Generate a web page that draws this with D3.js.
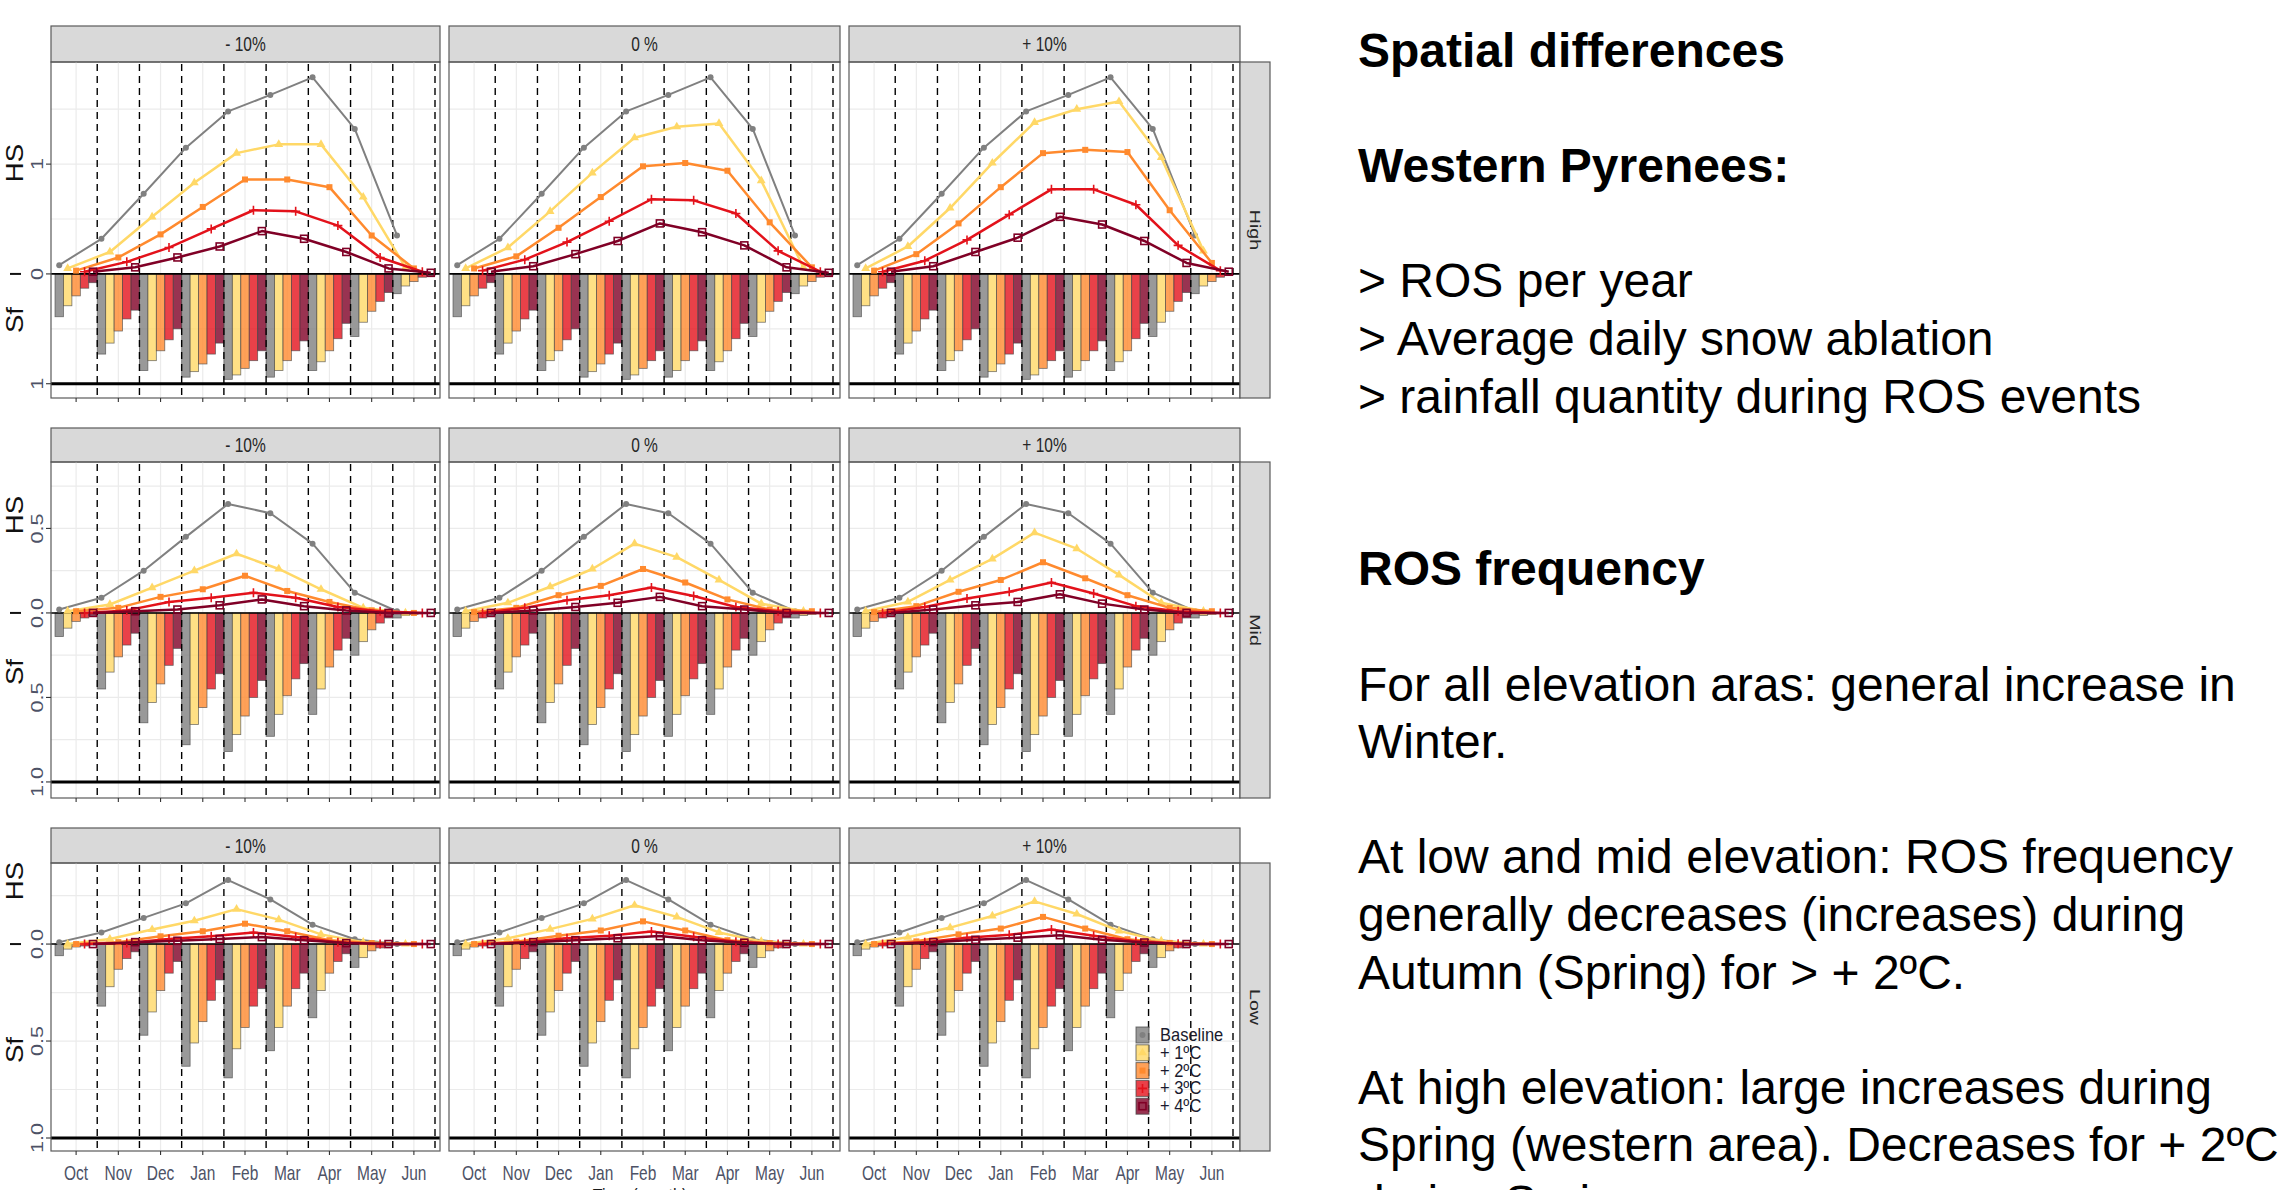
<!DOCTYPE html>
<html>
<head>
<meta charset="utf-8">
<script src="https://cdn.jsdelivr.net/npm/d3@7"></script>
<style>
  body { margin: 0; background: #fff; }
  svg { display: block; font-family: "Liberation Sans", Arial, sans-serif; }
</style>
</head>
<body>
<svg id="chart" width="2287" height="1190"></svg>
<script>
// ---- data ----
const months = ['Oct', 'Nov', 'Dec', 'Jan', 'Feb', 'Mar', 'Apr', 'May', 'Jun'];
const scenarios = ['Baseline', '+ 1ºC', '+ 2ºC', '+ 3ºC', '+ 4ºC'];
const precipChanges = ['- 10%', '0 %', '+ 10%'];
const elevations = ['High', 'Mid', 'Low'];

// HS baseline (same in every precipitation column)
const hsBaseHigh = [0.08, 0.32, 0.73, 1.15, 1.48, 1.63, 1.79, 1.32, 0.35];
const hsBaseMid = [0.02, 0.09, 0.25, 0.45, 0.645, 0.59, 0.41, 0.12, 0.01];
const hsBaseLow = [0.01, 0.06, 0.135, 0.21, 0.33, 0.23, 0.10, 0.025, 0.0];

// HS for +1..+4 ºC, one array per panel
const hsHighM10 = [
  [0.05, 0.20, 0.52, 0.83, 1.10, 1.18, 1.18, 0.70, 0.06],
  [0.03, 0.15, 0.36, 0.61, 0.86, 0.86, 0.79, 0.35, 0.05],
  [0.02, 0.11, 0.24, 0.41, 0.58, 0.57, 0.44, 0.15, 0.02],
  [0.02, 0.06, 0.15, 0.25, 0.39, 0.32, 0.20, 0.05, 0.01]
];
const hsHigh0 = [
  [0.05, 0.24, 0.57, 0.92, 1.24, 1.34, 1.37, 0.85, 0.06],
  [0.05, 0.16, 0.42, 0.70, 0.98, 1.01, 0.94, 0.47, 0.06],
  [0.03, 0.13, 0.29, 0.48, 0.68, 0.67, 0.55, 0.21, 0.02],
  [0.02, 0.07, 0.18, 0.30, 0.46, 0.38, 0.26, 0.06, 0.01]
];
const hsHighP10 = [
  [0.05, 0.25, 0.60, 1.01, 1.38, 1.50, 1.57, 1.06, 0.21],
  [0.03, 0.18, 0.46, 0.79, 1.10, 1.13, 1.11, 0.58, 0.10],
  [0.02, 0.12, 0.31, 0.54, 0.77, 0.77, 0.63, 0.26, 0.03],
  [0.02, 0.07, 0.20, 0.33, 0.52, 0.45, 0.30, 0.10, 0.02]
];
const hsMidM10 = [
  [0.01, 0.05, 0.15, 0.25, 0.35, 0.26, 0.14, 0.03, 0.0],
  [0.01, 0.03, 0.095, 0.14, 0.22, 0.13, 0.065, 0.015, 0.0],
  [0.0, 0.015, 0.065, 0.09, 0.12, 0.09, 0.035, 0.01, 0.0],
  [0.0, 0.01, 0.02, 0.045, 0.08, 0.04, 0.015, 0.0, 0.0]
];
const hsMid0 = [
  [0.01, 0.06, 0.155, 0.26, 0.41, 0.33, 0.195, 0.055, 0.01],
  [0.005, 0.03, 0.105, 0.16, 0.26, 0.18, 0.08, 0.02, 0.01],
  [0.0, 0.03, 0.075, 0.105, 0.15, 0.10, 0.035, 0.01, 0.0],
  [0.0, 0.015, 0.035, 0.06, 0.095, 0.04, 0.02, 0.0, 0.0]
];
const hsMidP10 = [
  [0.01, 0.065, 0.195, 0.32, 0.475, 0.38, 0.225, 0.06, 0.01],
  [0.005, 0.04, 0.125, 0.195, 0.30, 0.205, 0.105, 0.03, 0.01],
  [0.0, 0.035, 0.085, 0.125, 0.18, 0.115, 0.04, 0.01, 0.0],
  [0.0, 0.02, 0.045, 0.065, 0.11, 0.055, 0.02, 0.0, 0.0]
];
const hsLowM10 = [
  [0.0, 0.026, 0.075, 0.12, 0.18, 0.126, 0.05, 0.01, 0.0],
  [0.0, 0.01, 0.04, 0.066, 0.105, 0.066, 0.02, 0.005, 0.0],
  [0.0, 0.005, 0.026, 0.04, 0.06, 0.036, 0.01, 0.0, 0.0],
  [0.0, 0.01, 0.017, 0.026, 0.036, 0.02, 0.005, 0.0, 0.0]
];
const hsLow0 = [
  [0.0, 0.03, 0.077, 0.13, 0.20, 0.14, 0.06, 0.014, 0.0],
  [0.0, 0.012, 0.043, 0.07, 0.117, 0.07, 0.02, 0.005, 0.0],
  [0.0, 0.009, 0.03, 0.043, 0.065, 0.038, 0.012, 0.0, 0.0],
  [0.0, 0.01, 0.02, 0.03, 0.041, 0.02, 0.007, 0.0, 0.0]
];
const hsLowP10 = [
  [0.0, 0.035, 0.085, 0.145, 0.22, 0.155, 0.068, 0.016, 0.0],
  [0.0, 0.014, 0.05, 0.08, 0.14, 0.08, 0.025, 0.006, 0.0],
  [0.0, 0.01, 0.033, 0.048, 0.075, 0.043, 0.014, 0.002, 0.0],
  [0.0, 0.01, 0.022, 0.033, 0.046, 0.022, 0.008, 0.0, 0.0]
];

// Sf (snowfall fraction), Baseline..+4 ºC, same in every precipitation column
const sfHigh = [
  [0.39, 0.73, 0.88, 0.94, 0.96, 0.94, 0.88, 0.57, 0.18],
  [0.29, 0.63, 0.79, 0.89, 0.92, 0.88, 0.80, 0.44, 0.11],
  [0.20, 0.52, 0.70, 0.82, 0.86, 0.79, 0.70, 0.34, 0.07],
  [0.13, 0.41, 0.60, 0.73, 0.79, 0.70, 0.59, 0.25, 0.03],
  [0.08, 0.33, 0.50, 0.63, 0.70, 0.61, 0.45, 0.17, 0.015]
];
const sfMid = [
  [0.14, 0.45, 0.65, 0.78, 0.82, 0.73, 0.60, 0.25, 0.03],
  [0.09, 0.35, 0.53, 0.66, 0.72, 0.60, 0.45, 0.17, 0.015],
  [0.05, 0.26, 0.42, 0.56, 0.61, 0.49, 0.32, 0.10, 0.008],
  [0.03, 0.19, 0.31, 0.45, 0.50, 0.39, 0.22, 0.06, 0.004],
  [0.015, 0.12, 0.21, 0.36, 0.40, 0.30, 0.15, 0.03, 0.002]
];
const sfLow = [
  [0.06, 0.32, 0.47, 0.63, 0.69, 0.55, 0.38, 0.12, 0.005],
  [0.026, 0.22, 0.35, 0.51, 0.54, 0.43, 0.24, 0.07, 0.002],
  [0.015, 0.13, 0.24, 0.40, 0.43, 0.32, 0.15, 0.035, 0.001],
  [0.01, 0.075, 0.15, 0.29, 0.32, 0.23, 0.09, 0.02, 0.0],
  [0.005, 0.04, 0.09, 0.185, 0.23, 0.15, 0.05, 0.01, 0.0]
];

const noteLines = [
  'Spatial differences', '', 'Western Pyrenees:', '',
  '> ROS per year', '> Average daily snow ablation', '> rainfall quantity during ROS events',
  '', '', 'ROS frequency', '',
  'For all elevation aras: general increase in', 'Winter.', '',
  'At low and mid elevation: ROS frequency', 'generally decreases (increases) during',
  'Autumn (Spring) for > + 2ºC.', '',
  'At high elevation: large increases during', 'Spring (western area). Decreases for + 2ºC',
  'during Spring.'
];
const noteBold = [0, 2, 9];

// ---- lookups ----
const hsBase = { High: hsBaseHigh, Mid: hsBaseMid, Low: hsBaseLow };
const hsWarm = {
  High: [hsHighM10, hsHigh0, hsHighP10],
  Mid: [hsMidM10, hsMid0, hsMidP10],
  Low: [hsLowM10, hsLow0, hsLowP10]
};
const sfRows = { High: sfHigh, Mid: sfMid, Low: sfLow };

// ---- styling / layout ----
const lineColors = ['#808080', '#ffd867', '#ff8a2e', '#e3121b', '#800026'];
const textGrey = '#4d5266';
const borderCol = '#5a5a5a';
const cols = [{ x: 51, w: 389 }, { x: 449, w: 391 }, { x: 849, w: 391 }];
const rows = [
  { stripTop: 26, top: 62, bottom: 398, domain: [-1.13, 1.93], ticks: [-1, 0, 1], step: 0.5, fmt: d3.format('d'), hsY: 163, sfY: 320 },
  { stripTop: 428, top: 462, bottom: 798, domain: [-1.095, 0.893], ticks: [-1, -0.5, 0, 0.5], step: 0.25, fmt: d3.format('.1f'), hsY: 515, sfY: 672 },
  { stripTop: 828, top: 863, bottom: 1151, domain: [-1.067, 0.418], ticks: [-1, -0.5, 0], step: 0.25, fmt: d3.format('.1f'), hsY: 881, sfY: 1050 }
];
const stripRight = { x: 1240, w: 30 };

const svg = d3.select('#chart');

function addText(parent, str, x, y, o = {}) {
  const t = parent.append('text')
    .attr('transform', `translate(${x},${y}) rotate(${o.rot || 0}) scale(${o.sx || 1},${o.sy || 1})`)
    .attr('font-size', o.size || 16)
    .attr('text-anchor', o.anchor || 'middle')
    .attr('fill', o.fill || '#1a1a1a')
    .attr('font-weight', o.weight || 'normal')
    .text(str);
  if (o.baseline) t.attr('dominant-baseline', o.baseline);
  return t;
}

function drawMarker(g, i, x, y) {
  const c = lineColors[i];
  if (i === 0) g.append('circle').attr('cx', x).attr('cy', y).attr('r', 3).attr('fill', c);
  else if (i === 1) g.append('path').attr('d', d3.symbol(d3.symbolTriangle, 34)()).attr('transform', `translate(${x},${y})`).attr('fill', c);
  else if (i === 2) g.append('rect').attr('x', x - 3).attr('y', y - 3).attr('width', 6).attr('height', 6).attr('fill', c);
  else if (i === 3) g.append('path').attr('d', `M${x - 4.5},${y}H${x + 4.5}M${x},${y - 4.5}V${y + 4.5}`).attr('stroke', c).attr('stroke-width', 1.6);
  else g.append('rect').attr('x', x - 3.5).attr('y', y - 3.5).attr('width', 7).attr('height', 7).attr('fill', 'none').attr('stroke', c).attr('stroke-width', 1.6);
}

rows.forEach((row, ri) => {
  const elev = elevations[ri];
  const y = d3.scaleLinear().domain(row.domain).range([row.bottom, row.top]);
  const gridVals = d3.range(Math.ceil(row.domain[0] / row.step) * row.step, row.domain[1], row.step);

  cols.forEach((col, ci) => {
    const x = d3.scaleBand().domain(months).range([col.x + 4, col.x + 384]).padding(0);
    const sub = d3.scaleBand().domain(d3.range(5)).range([0, x.bandwidth()]).padding(0);
    const g = svg.append('g');

    // column strip
    g.append('rect').attr('x', col.x).attr('y', row.stripTop).attr('width', col.w).attr('height', row.top - row.stripTop)
      .attr('fill', '#d9d9d9').attr('stroke', borderCol).attr('stroke-width', 1.2);
    addText(g, precipChanges[ci], col.x + col.w / 2, (row.stripTop + row.top) / 2 + 7, { size: 15.5, sy: 1.27, fill: '#262626' });

    // grid
    g.selectAll('.hg').data(gridVals).join('line')
      .attr('x1', col.x).attr('x2', col.x + col.w).attr('y1', d => y(d)).attr('y2', d => y(d))
      .attr('stroke', '#ebebeb').attr('stroke-width', 1.2);
    g.selectAll('.vg').data(months).join('line')
      .attr('x1', d => x(d) + x.bandwidth() / 2).attr('x2', d => x(d) + x.bandwidth() / 2)
      .attr('y1', row.top).attr('y2', row.bottom).attr('stroke', '#ebebeb').attr('stroke-width', 1.2);

    // Sf bars (downwards)
    const sf = sfRows[elev];
    sf.forEach((vals, si) => {
      g.selectAll(null).data(vals.map((v, mi) => ({ m: months[mi], v }))).join('rect')
        .attr('x', d => x(d.m) + sub(si))
        .attr('y', y(0))
        .attr('width', sub.bandwidth())
        .attr('height', d => y(-d.v) - y(0))
        .attr('fill', lineColors[si]).attr('fill-opacity', 0.8)
        .attr('stroke', '#4a4a4a').attr('stroke-opacity', 0.75).attr('stroke-width', 0.8);
    });

    // dashed month separators
    g.selectAll('.dl').data(months).join('line')
      .attr('x1', d => x(d) + x.bandwidth()).attr('x2', d => x(d) + x.bandwidth())
      .attr('y1', row.top + 2).attr('y2', row.bottom)
      .attr('stroke', '#000').attr('stroke-width', 1.4).attr('stroke-dasharray', '7,5');

    // reference lines
    g.append('line').attr('x1', col.x).attr('x2', col.x + col.w).attr('y1', y(0)).attr('y2', y(0)).attr('stroke', '#000').attr('stroke-width', 1.6);
    g.append('line').attr('x1', col.x).attr('x2', col.x + col.w).attr('y1', y(-1)).attr('y2', y(-1)).attr('stroke', '#000').attr('stroke-width', 3);

    // HS lines
    const series = [hsBase[elev]].concat(hsWarm[elev][ci]);
    series.forEach((vals, si) => {
      const pts = vals.map((v, mi) => [x(months[mi]) + sub(si) + sub.bandwidth() / 2, y(v)]);
      g.append('path').attr('d', d3.line()(pts)).attr('fill', 'none')
        .attr('stroke', lineColors[si]).attr('stroke-width', si === 0 ? 2 : 2.5).attr('stroke-linejoin', 'round');
      pts.forEach(p => drawMarker(g, si, p[0], p[1]));
    });

    // panel border
    g.append('rect').attr('x', col.x).attr('y', row.top).attr('width', col.w).attr('height', row.bottom - row.top)
      .attr('fill', 'none').attr('stroke', borderCol).attr('stroke-width', 1.2);

    // x ticks
    g.selectAll('.xt').data(months).join('line')
      .attr('x1', d => x(d) + x.bandwidth() / 2).attr('x2', d => x(d) + x.bandwidth() / 2)
      .attr('y1', row.bottom).attr('y2', row.bottom + 4).attr('stroke', '#333').attr('stroke-width', 1.1);
    if (ri === rows.length - 1) {
      months.forEach(m => addText(g, m, x(m) + x.bandwidth() / 2, row.bottom + 29, { size: 15.5, sy: 1.27, fill: textGrey }));
    }

    // legend in the last panel
    if (ri === rows.length - 1 && ci === cols.length - 1) {
      const lg = svg.append('g');
      scenarios.forEach((s, si) => {
        const ky = 1027 + si * 17.8;
        lg.append('rect').attr('x', 1136).attr('y', ky).attr('width', 13).attr('height', 16)
          .attr('fill', lineColors[si]).attr('fill-opacity', 0.8).attr('stroke', '#4a4a4a').attr('stroke-opacity', 0.75);
        drawMarker(lg, si, 1142.5, ky + 8);
        addText(lg, s, 1160, ky + 14, { size: 16.5, sy: 1.12, anchor: 'start', fill: '#1a1a2e' });
      });
    }
  });

  // y axis (first column)
  const ax = svg.append('g');
  row.ticks.forEach(t => {
    ax.append('line').attr('x1', 46).attr('x2', 51).attr('y1', y(t)).attr('y2', y(t)).attr('stroke', '#333').attr('stroke-width', 1.1);
    addText(ax, row.fmt(Math.abs(t)), 43, y(t), { size: 17, rot: -90, sx: 1.27, fill: textGrey });
  });
  addText(ax, 'HS', 23, row.hsY, { size: 23, rot: -90, sx: 1.2, fill: '#111' });
  addText(ax, 'Sf', 23, row.sfY, { size: 23, rot: -90, sx: 1.2, fill: '#111' });
  ax.append('line').attr('x1', 10).attr('x2', 21).attr('y1', y(0)).attr('y2', y(0)).attr('stroke', '#111').attr('stroke-width', 2);

  // elevation strip on the right
  svg.append('rect').attr('x', stripRight.x).attr('y', row.top).attr('width', stripRight.w).attr('height', row.bottom - row.top)
    .attr('fill', '#d9d9d9').attr('stroke', borderCol).attr('stroke-width', 1.2);
  addText(svg, elev, stripRight.x + stripRight.w / 2, (row.top + row.bottom) / 2, { size: 15.5, rot: 90, sx: 1.27, fill: '#262626', baseline: 'central' });
});

// x axis title (cut off at the bottom edge)
addText(svg, 'Time (month)', 640, 1203, { size: 16, sy: 1.27, fill: '#1a1a1a' });

// notes on the right
const notes = svg.append('g');
noteLines.forEach((line, i) => {
  if (!line) return;
  notes.append('text').attr('x', 1358).attr('y', 67 + i * 57.6)
    .attr('font-size', 48).attr('fill', '#000')
    .attr('font-weight', noteBold.includes(i) ? 'bold' : 'normal')
    .text(line);
});
</script>
</body>
</html>
